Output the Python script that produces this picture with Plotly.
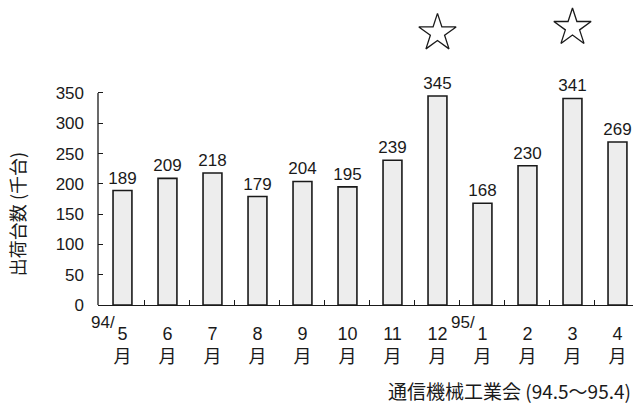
import plotly.graph_objects as go

# Monthly shipments (thousand units), May 1994 – Apr 1995
months = ["5", "6", "7", "8", "9", "10", "11", "12", "1", "2", "3", "4"]
shipments = [189, 209, 218, 179, 204, 195, 239, 345, 168, 230, 341, 269]
year_marks = {0: "94/", 8: "95/"}
star_idx = [7, 10]
star_y = [449, 458]
y_ticks = [0, 50, 100, 150, 200, 250, 300, 350]

x = list(range(len(months)))
num_font = "Liberation Sans, Arial, Noto Sans CJK JP"
cjk_font = "Noto Sans CJK JP, Liberation Sans"
ink = "#1a1a1a"

fig = go.Figure()
fig.add_trace(go.Bar(
    x=x, y=shipments, width=0.42,
    marker=dict(color="#ededed", line=dict(color=ink, width=1.6)),
    text=[str(v) for v in shipments], textposition="outside",
    constraintext="none",
    textfont=dict(family=num_font, size=17, color=ink),
    cliponaxis=False, showlegend=False,
))
fig.add_trace(go.Scatter(
    x=star_idx, y=star_y, mode="markers",
    marker=dict(symbol="star-open", size=28, color=ink, line=dict(width=1.3)),
    cliponaxis=False, showlegend=False,
))

annotations = []
for i, lab in year_marks.items():
    annotations.append(dict(
        x=i - 0.13, y=0, xref="x", yref="paper", text=lab, showarrow=False,
        xanchor="right", yanchor="middle", yshift=-17,
        font=dict(family=num_font, size=17, color=ink),
    ))
# y-axis title, centred on the ticked part of the axis
annotations.append(dict(
    x=0, y=max(y_ticks) / 2 - 25, xref="paper", yref="y", xshift=-81,
    text="出荷台数 (千台)", textangle=-90, showarrow=False,
    xanchor="center", yanchor="middle",
    font=dict(family=cjk_font, size=18, color=ink),
))
annotations.append(dict(
    x=1, y=0, xref="paper", yref="paper", xanchor="right", yanchor="middle",
    text="通信機械工業会 (94.5～95.4)", showarrow=False, yshift=-85,
    font=dict(family=cjk_font, size=19, color=ink),
))

# y-axis spine drawn only up to the top tick; the space above holds the stars
shapes = [dict(type="line", xref="paper", yref="y", x0=0, x1=0,
               y0=0, y1=max(y_ticks), line=dict(color=ink, width=1.3))]

fig.update_layout(
    width=640, height=403,
    margin=dict(l=98, r=7, t=0, b=98),
    paper_bgcolor="white", plot_bgcolor="white",
    annotations=annotations, shapes=shapes,
    xaxis=dict(
        range=[-0.544, 11.345], showgrid=False, zeroline=False,
        showline=True, linecolor=ink, linewidth=1.3,
        tickmode="array", tickvals=x,
        ticktext=[f"{m}<br>月" for m in months],
        ticks="", tickfont=dict(family=num_font, size=18, color=ink),
        ticklabelstandoff=12,
        minor=dict(tickmode="array", tickvals=[i + 0.5 for i in x[:-1]],
                   ticks="inside", ticklen=5, tickwidth=1.2, tickcolor=ink,
                   showgrid=False),
    ),
    yaxis=dict(
        range=[0, 503.5], showgrid=False, zeroline=False, showline=False,
        tickmode="array", tickvals=y_ticks,
        ticks="inside", ticklen=5, tickwidth=1.2, tickcolor=ink,
        tickfont=dict(family=num_font, size=17, color=ink),
        ticklabelstandoff=13,
    ),
)

fig.write_html("out.html")
